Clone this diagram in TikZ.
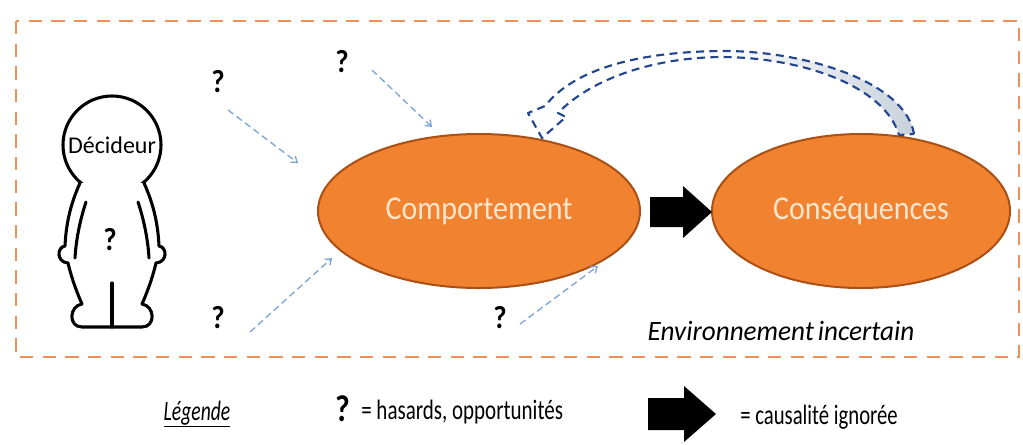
\documentclass[tikz,border=0pt]{standalone}
\usepackage{fontspec}
\setmainfont{Carlito}
\usetikzlibrary{shapes.geometric,arrows.meta}
\definecolor{bordercol}{RGB}{236,145,90}
\definecolor{ellfill}{RGB}{241,130,48}
\definecolor{elldraw}{RGB}{170,80,20}
\definecolor{elltext}{RGB}{253,230,205}
\definecolor{qblue}{RGB}{125,165,215}
\definecolor{cblue}{RGB}{35,70,145}
\definecolor{cgray}{RGB}{200,210,220}
\tikzset{
  ell/.style={ellipse, fill=ellfill, draw=elldraw, line width=1.5pt, minimum height=154*0.75pt, inner sep=0pt, text=elltext, font=\fontsize{25pt}{28pt}\selectfont},
  qmark/.style={font=\fontsize{24pt}{27pt}\selectfont\bfseries, inner sep=0pt},
  qarrow/.style={draw=qblue, line width=1pt, dash pattern=on 5pt off 3pt, -{Straight Barb[length=4pt,width=6pt]}},
  blackarrow/.style={fill=black},
  person/.style={draw=black, line width=2.3pt, line join=round, line cap=round},
  lbl/.style={inner sep=0pt, font=\fontsize{21pt}{24pt}\selectfont}
}
\newcommand{\sq}[2]{\scalebox{#1}[1]{#2}}
\begin{document}
\begin{tikzpicture}[x=0.75pt,y=-0.75pt]
\useasboundingbox (0,0) rectangle (1023,444);
% frame
\draw[bordercol, line width=2pt, dash pattern=on 10pt off 7pt] (16,21) rectangle (1019,357);
% person
\node[circle, draw=black, line width=2.3pt, minimum size=98*0.75pt, inner sep=0pt, font=\fontsize{18pt}{20pt}\selectfont] (head) at (112,145) {Décideur};
\draw[person, fill=white] (80,183) .. controls (70,205) and (66,225) .. (65,246)
  .. controls (57,247) and (56,262) .. (68,263)
  .. controls (72,280) and (78,295) .. (82,304)
  .. controls (69,306) and (68,327) .. (82,327) -- (142,327)
  .. controls (156,327) and (155,306) .. (142,304)
  .. controls (146,295) and (152,280) .. (156,263)
  .. controls (168,262) and (167,247) .. (159,246)
  .. controls (158,225) and (154,205) .. (144,183);
\draw[person] (86,202) .. controls (80,220) and (76,240) .. (75,258);
\draw[person] (138,202) .. controls (144,220) and (148,240) .. (149,258);
\draw[person] (112,283) -- (112,327);
\node[qmark] (qbody) at (110,240) {\sq{0.9}{?}};
% ellipses
\node[ell, minimum width=322*0.75pt] (comp) at (479,211) {\sq{0.9}{Comportement}};
\node[ell, minimum width=298*0.75pt] (cons) at (861,211) {\sq{0.9}{Conséquences}};
% black arrow between
\fill[blackarrow] (650,197) -- (683,197) -- (683,186) -- (712,212) -- (683,238) -- (683,227) -- (650,227) -- cycle;
% question marks
\node[qmark] (q1) at (218,82) {\sq{0.9}{?}};
\node[qmark] (q2) at (342,62) {\sq{0.9}{?}};
\node[qmark] (q3) at (218,318) {\sq{0.9}{?}};
\node[qmark] (q4) at (500,318) {\sq{0.9}{?}};
\coordinate (a1s) at (228,110); \coordinate (a1e) at (298,163);
\coordinate (a2s) at (372,70);  \coordinate (a2e) at (432,127);
\coordinate (a3s) at (250,332); \coordinate (a3e) at (332,258);
\coordinate (a4s) at (520,324); \coordinate (a4e) at (598,266);
\draw[qarrow] (a1s) -- (a1e);
\draw[qarrow] (a2s) -- (a2e);
\draw[qarrow] (a3s) -- (a3e);
\draw[qarrow] (a4s) -- (a4e);
% curved feedback arrow
\path[left color=white, right color=cgray, middle color=white]
  (914,134) .. controls (905,80) and (800,50) .. (720,51)
  .. controls (640,52) and (575,68) .. (545,106)
  -- (528,113) -- (542,138) -- (566,117) -- (558,113)
  .. controls (590,80) and (650,58) .. (720,57)
  .. controls (800,57) and (884,85) .. (899,135) -- cycle;
\draw[cblue, line width=1.6pt, dash pattern=on 6pt off 4pt, line join=round]
  (914,134) .. controls (905,80) and (800,50) .. (720,51)
  .. controls (640,52) and (575,68) .. (545,106)
  -- (528,113) -- (542,138) -- (566,117) -- (558,113)
  .. controls (590,80) and (650,58) .. (720,57)
  .. controls (800,57) and (884,85) .. (899,135) -- cycle;
% environment label
\node[inner sep=0pt, font=\fontsize{21pt}{24pt}\selectfont\itshape] (env) at (781,331) {\sq{0.97}{Environnement\kern3pt incertain}};
% legend
\node[lbl, font=\fontsize{21pt}{24pt}\selectfont\itshape] (leg) at (197,414) {\sq{0.7}{\underline{Légende}}};
\node[qmark, font=\fontsize{28pt}{30pt}\selectfont\bfseries] (lq) at (343,409) {\sq{0.85}{?}};
\node[lbl, anchor=west] (lqt) at (361,412) {\sq{0.75}{= hasards, opportunités}};
\fill[blackarrow] (648,398) -- (684,398) -- (684,386) -- (716,414) -- (684,442) -- (684,430) -- (648,430) -- cycle;
\node[lbl, anchor=west] (lat) at (740,417) {\sq{0.74}{= causalité ignorée}};
\end{tikzpicture}
\end{document}
